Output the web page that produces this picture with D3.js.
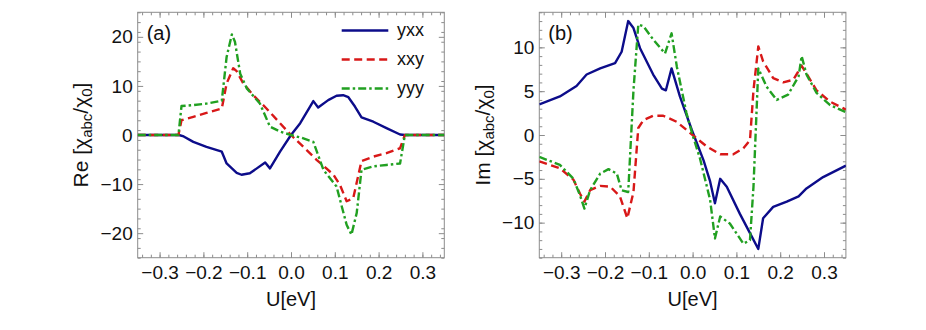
<!DOCTYPE html>
<html>
<head>
<meta charset="utf-8">
<script src="https://cdn.jsdelivr.net/npm/d3@7"></script>
<style>
  body { margin: 0; background: #fff; }
  text { font-family: "Liberation Sans", Arial, sans-serif; fill: #111; }
</style>
</head>
<body>
<script>

let width = 926;
let height = 330;

// series names and colours
let seriesNames = ["yxx", "xxy", "yyy"];
let seriesColors = ["#0c0c8a", "#d81818", "#21a021"];
let seriesDash = [null, "8,4.5", "8,3,2.5,3"];

let xTicks = [-0.3, -0.2, -0.1, 0.0, 0.1, 0.2, 0.3];
let reTicks = [-20, -10, 0, 10, 20];
let imTicks = [-10, -5, 0, 5, 10];

// panel (a) : Re, [U, value]
let reYxx = [[-0.35, 0], [-0.256, 0], [-0.245, -0.3], [-0.223, -1.4], [-0.193, -2.4], [-0.158, -3.4],
    [-0.147, -5.8], [-0.124, -7.7], [-0.113, -8.1], [-0.094, -7.8], [-0.078, -6.8], [-0.059, -5.6],
    [-0.048, -6.8], [-0.025, -3.4], [0, 0], [0.021, 2.4], [0.051, 6.9], [0.062, 5.6], [0.085, 7.1],
    [0.104, 8.0], [0.119, 8.1], [0.131, 7.7], [0.146, 5.8], [0.161, 3.6], [0.188, 2.7], [0.218, 1.4],
    [0.249, 0.1], [0.26, 0], [0.35, 0]];
let reXxy = [[-0.35, 0], [-0.257, 0], [-0.25, 3.0], [-0.223, 3.7], [-0.193, 4.5], [-0.158, 5.4],
    [-0.147, 10.5], [-0.132, 13.6], [-0.124, 13.0], [-0.109, 10.5], [-0.086, 8.1], [-0.056, 5.4],
    [-0.025, 2.4], [0, 0], [0.028, -2.4], [0.059, -5.1], [0.097, -8.1], [0.112, -10.2], [0.127, -13.5],
    [0.142, -12.9], [0.161, -5.3], [0.188, -4.4], [0.218, -3.7], [0.249, -2.7], [0.26, 0], [0.35, 0]];
let reYyy = [[-0.35, 0], [-0.257, 0], [-0.25, 5.9], [-0.223, 6.1], [-0.193, 6.4], [-0.158, 7.0],
    [-0.147, 15.9], [-0.135, 20.5], [-0.128, 19.0], [-0.116, 12.5], [-0.101, 9.5], [-0.071, 6.4],
    [-0.048, 1.7], [-0.025, 0.7], [0, 0], [0.025, -0.6], [0.051, -1.4], [0.074, -7.1], [0.104, -10.5],
    [0.127, -18.3], [0.138, -20.3], [0.15, -15.9], [0.161, -7.1], [0.188, -6.4], [0.218, -6.1],
    [0.249, -5.8], [0.26, 0], [0.35, 0]];

// panel (b) : Im, [U, value]
let imYxx = [[-0.35, 3.5], [-0.303, 4.4], [-0.265, 5.6], [-0.242, 6.9], [-0.211, 7.6], [-0.177, 8.2],
    [-0.162, 9.5], [-0.147, 13.0], [-0.135, 12.2], [-0.12, 9.9], [-0.09, 6.9], [-0.07, 5.3],
    [-0.061, 5.1], [-0.048, 7.6], [-0.029, 4.4], [-0.002, 0.6], [0.025, -2.9], [0.04, -5.3],
    [0.051, -7.8], [0.063, -5.0], [0.078, -5.9], [0.108, -9.0], [0.131, -11.2], [0.15, -13.0],
    [0.161, -9.5], [0.184, -8.2], [0.215, -7.6], [0.242, -7.0], [0.26, -6.1], [0.298, -4.8], [0.35, -3.5]];
let imXxy = [[-0.35, -3.0], [-0.303, -3.8], [-0.272, -5.1], [-0.257, -6.7], [-0.247, -7.6], [-0.234, -6.3],
    [-0.211, -5.8], [-0.188, -5.9], [-0.166, -7.0], [-0.149, -9.5], [-0.135, -6.5], [-0.124, 0.8],
    [-0.112, 1.7], [-0.09, 2.2], [-0.067, 2.2], [-0.036, 1.5], [0, 0], [0.032, -1.3], [0.063, -2.2],
    [0.093, -2.2], [0.116, -1.5], [0.131, -0.6], [0.139, 5.1], [0.15, 10.1], [0.161, 8.4], [0.184, 6.5],
    [0.207, 6.0], [0.23, 6.3], [0.249, 7.9], [0.26, 7.0], [0.283, 5.1], [0.314, 3.8], [0.35, 2.9]];
let imYyy = [[-0.35, -2.5], [-0.303, -3.4], [-0.272, -5.0], [-0.257, -6.9], [-0.247, -8.4], [-0.234, -6.3],
    [-0.211, -4.4], [-0.192, -3.9], [-0.173, -4.4], [-0.162, -6.3], [-0.147, -6.5], [-0.135, 5.1],
    [-0.124, 12.6], [-0.112, 12.4], [-0.09, 10.9], [-0.063, 9.3], [-0.048, 11.6], [-0.036, 7.8],
    [-0.014, 2.5], [0, 0], [0.017, -2.7], [0.04, -7.4], [0.051, -11.8], [0.063, -9.3], [0.085, -10.1],
    [0.116, -12.4], [0.131, -12.0], [0.139, -5.9], [0.15, 7.6], [0.169, 5.5], [0.192, 4.0], [0.218, 4.6],
    [0.242, 6.7], [0.249, 9.0], [0.26, 6.9], [0.283, 4.8], [0.314, 3.4], [0.35, 2.6]];

let svg = d3.select("body").append("svg")
    .attr("width", width)
    .attr("height", height);

svg.append("rect")
    .attr("width", width)
    .attr("height", height)
    .attr("fill", "#fff");

function draw_panel(opts) {
    let x = d3.scaleLinear().domain([-0.35, 0.35]).range([opts.left, opts.left + 306.6]);
    let y = d3.scaleLinear().domain(opts.yDomain).range([257.7, 12.3]);
    let g = svg.append("g");

    // minor ticks
    let xMinor = d3.range(-0.34, 0.3501, 0.02).map(v => +v.toFixed(2));
    let yMinor = d3.range(opts.yDomain[0], opts.yDomain[1] + 0.001, opts.yMinor);

    let axes = [
        [d3.axisBottom(x), "translate(0,257.7)", xMinor],
        [d3.axisTop(x), "translate(0,12.3)", xMinor],
        [d3.axisLeft(y), "translate(" + opts.left + ",0)", yMinor],
        [d3.axisRight(y), "translate(" + (opts.left + 306.6) + ",0)", yMinor]
    ];
    axes.forEach(function (a) {
        g.append("g")
            .attr("transform", a[1])
            .call(a[0].tickValues(a[2]).tickSize(-3).tickFormat(""))
            .call(s => s.select(".domain").remove())
            .selectAll("line").attr("stroke", "#8c8c8c");
    });

    // major ticks + labels
    axes = [
        [d3.axisBottom(x).tickFormat(d3.format(".1f")).tickPadding(8), "translate(0,257.7)", xTicks],
        [d3.axisTop(x).tickFormat(""), "translate(0,12.3)", xTicks],
        [d3.axisLeft(y).tickFormat(d3.format("d")).tickPadding(5), "translate(" + opts.left + ",0)", opts.yTicks],
        [d3.axisRight(y).tickFormat(""), "translate(" + (opts.left + 306.6) + ",0)", opts.yTicks]
    ];
    axes.forEach(function (a) {
        let ax = g.append("g")
            .attr("transform", a[1])
            .call(a[0].tickValues(a[2]).tickSize(-5.5));
        ax.select(".domain").remove();
        ax.selectAll("line").attr("stroke", "#8c8c8c");
        ax.selectAll("text")
            .attr("font-size", 19)
            .attr("font-family", "Liberation Sans, Arial, sans-serif")
            .attr("fill", "#111");
    });

    g.append("rect")
        .attr("x", opts.left)
        .attr("y", 12.3)
        .attr("width", 306.6)
        .attr("height", 245.4)
        .attr("fill", "none")
        .attr("stroke", "#8c8c8c")
        .attr("stroke-width", 1);

    let clipId = "clip" + opts.name;
    svg.append("clipPath").attr("id", clipId)
        .append("rect")
        .attr("x", opts.left).attr("y", 12.3)
        .attr("width", 306.6).attr("height", 245.4);

    let line = d3.line()
        .x(d => x(d[0]))
        .y(d => y(d[1]));

    opts.series.forEach(function (s, i) {
        g.append("path")
            .datum(s)
            .attr("clip-path", "url(#" + clipId + ")")
            .attr("fill", "none")
            .attr("stroke", seriesColors[i])
            .attr("stroke-width", 2.4)
            .attr("stroke-linejoin", "round")
            .attr("stroke-dasharray", seriesDash[i])
            .attr("d", line);
    });

    g.append("text")
        .attr("x", opts.left + 9)
        .attr("y", 40)
        .attr("font-size", 20)
        .text("(" + opts.name + ")");

    // axis labels
    let yl = g.append("text")
        .attr("transform", "translate(" + opts.yLabelX + ",135) rotate(-90)")
        .attr("text-anchor", "middle")
        .attr("font-size", 21);
    yl.append("tspan").text(opts.part + " [χ");
    yl.append("tspan").attr("font-size", 15).attr("dy", 4).text("abc");
    yl.append("tspan").attr("dy", -4).text("/χ");
    yl.append("tspan").attr("font-size", 15).attr("dy", 4).text("0");
    yl.append("tspan").attr("dy", -4).text("]");

    g.append("text")
        .attr("x", x(0))
        .attr("y", 306)
        .attr("text-anchor", "middle")
        .attr("font-size", 20)
        .text("U[eV]");

    return g;
}

let ga = draw_panel({
    name: "a", part: "Re", left: 137.7, yDomain: [-25, 25], yTicks: reTicks, yMinor: 2,
    yLabelX: 88, series: [reYxx, reXxy, reYyy]
});
draw_panel({
    name: "b", part: "Im", left: 539.3, yDomain: [-14, 14], yTicks: imTicks, yMinor: 1,
    yLabelX: 490, series: [imYxx, imXxy, imYyy]
});

// Legend
let legend = ga.append("g");
seriesNames.forEach(function (name, i) {
    let ly = 30.5 + i * 29;
    legend.append("line")
        .attr("x1", 341.7).attr("x2", 388.3)
        .attr("y1", ly).attr("y2", ly)
        .attr("stroke", seriesColors[i])
        .attr("stroke-width", 2.4)
        .attr("stroke-dasharray", seriesDash[i]);
    legend.append("text")
        .attr("x", 397)
        .attr("y", ly + 5)
        .attr("font-size", 18)
        .text(name);
});

</script>
</body>
</html>
